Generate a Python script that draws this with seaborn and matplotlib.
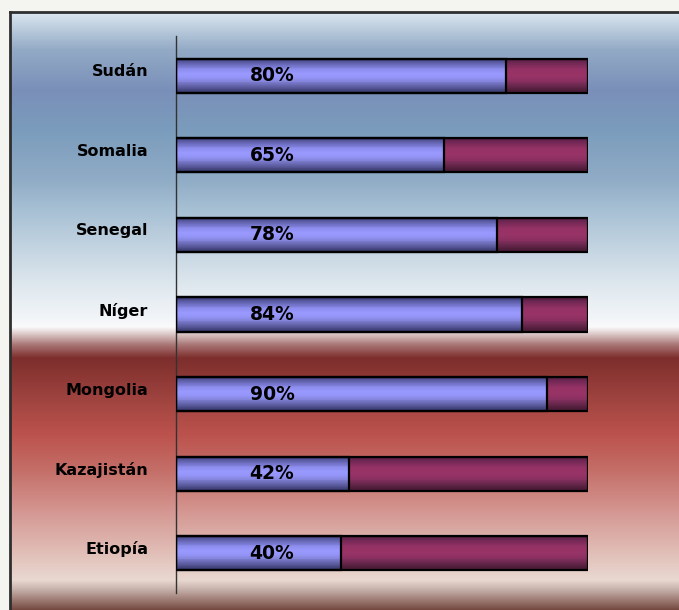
import numpy as np
import pandas as pd
import matplotlib
matplotlib.use("Agg")
import matplotlib.pyplot as plt
import seaborn as sns
from matplotlib.colors import to_rgb
from matplotlib.transforms import ScaledTranslation, blended_transform_factory

countries = ["Sudán", "Somalia", "Senegal", "Níger", "Mongolia", "Kazajistán", "Etiopía"]
values = [80, 65, 78, 84, 90, 42, 40]
totals = [100, 100, 100, 100, 100, 100, 100]
labels = [f"{v}%" for v in values]

df = pd.DataFrame({"country": countries, "value": values, "total": totals})

sns.set_theme(style="white")
plt.rcParams['font.family'] = ['DejaVu Sans']

W, H = 679, 610
fig = plt.figure(figsize=(W / 100, H / 100), dpi=100)
fig.patch.set_facecolor('#f4f5f0')

# ---- background panel with vertical gradient ----
bg = fig.add_axes([10 / W, 0, (W - 10) / W, (H - 12) / H])
stops = [
    (12, '#dde8f2'), (30, '#b8cadb'), (50, '#93aac6'), (90, '#7a8fb8'),
    (130, '#7b9cbc'), (180, '#90acc6'), (210, '#a7c0d4'), (250, '#c5d5e2'),
    (290, '#e2eaf0'), (318, '#f2f5f8'), (327, '#fafafb'), (331, '#eadede'),
    (345, '#a87474'), (358, '#7d2e2c'), (400, '#a04440'), (435, '#bc524d'),
    (470, '#c46e68'), (510, '#d49590'), (550, '#e0bcb5'), (580, '#e9d9d1'),
    (590, '#c4aea8'), (610, '#74483f'),
]
ys = np.array([s[0] for s in stops], dtype=float)
cols = np.array([to_rgb(s[1]) for s in stops])
py = np.arange(12, 610) + 0.5
grad = np.stack([np.interp(py, ys, cols[:, k]) for k in range(3)], axis=1)
bg.imshow(grad[:, None, :], aspect='auto', extent=[0, 1, 0, 1], interpolation='nearest')
bg.set_xlim(0, 1)
bg.set_ylim(0, 1)
bg.set_xticks([])
bg.set_yticks([])
for s in ['right', 'bottom']:
    bg.spines[s].set_visible(False)
for s in ['top', 'left']:
    bg.spines[s].set_visible(True)
    bg.spines[s].set_color('#2f2f2f')
    bg.spines[s].set_linewidth(2)

# ---- main chart ----
ax = fig.add_axes([176 / W, 17 / H, 412 / W, 557 / H])
ax.set_facecolor('none')
sns.barplot(data=df, y="country", x="total", color="#993366", width=0.43,
            edgecolor="black", linewidth=1.6, orient="h", ax=ax)
sns.barplot(data=df, y="country", x="value", color="#9999ff", width=0.43,
            edgecolor="black", linewidth=1.6, orient="h", ax=ax)

blue_grad = ['#3c3c70', '#5858a0', '#7676cc', '#8e8ef0', '#9999ff', '#9696fa',
             '#8585dc', '#6a6ab4', '#4e4e8c', '#3c3c70']
maroon_grad = ['#4a1a38', '#6a2550', '#842e5e', '#953265', '#993366', '#963366',
               '#88305f', '#702a52', '#55203f', '#481a35']


def make_grad(hexes, n=40):
    c = np.array([to_rgb(h) for h in hexes])
    t = np.linspace(0, 1, len(hexes))
    tt = np.linspace(0, 1, n)
    g = np.stack([np.interp(tt, t, c[:, k]) for k in range(3)], axis=1)
    return g[:, None, :]


patches = list(ax.patches)
n = len(countries)
for i, p in enumerate(patches):
    x0, y0 = p.get_x(), p.get_y()
    w, h = p.get_width(), p.get_height()
    g = make_grad(maroon_grad if i < n else blue_grad)
    ax.imshow(g, aspect='auto', extent=[x0, x0 + w, y0 + h, y0],
              interpolation='nearest', zorder=2 + (0.5 if i >= n else 0))
    p.set_facecolor('none')
    p.set_zorder(3 + (0.5 if i >= n else 0))

ax.set_xlim(0, 100)
ax.set_ylim(n - 0.5, -0.5)

for i, lab in enumerate(labels):
    ax.text(23.3, i, lab, ha='center', va='center', fontsize=13.5,
            fontweight='bold', color='black', zorder=5)

# category labels (drawn as text, shifted slightly above bar centre)
ax.set_yticks(range(n))
ax.set_yticklabels([""] * n)
lab_tr = blended_transform_factory(ax.transAxes, ax.transData) + \
    ScaledTranslation(-28 / 100, 4 / 100, fig.dpi_scale_trans)
for i, c in enumerate(countries):
    ax.text(0, i, c, transform=lab_tr, ha='right', va='center',
            fontsize=11.5, fontweight='bold', color='black')

ax.set_xlabel("")
ax.set_ylabel("")
ax.set_xticks([])
ax.tick_params(axis='y', length=0)
for s in ['top', 'right', 'bottom']:
    ax.spines[s].set_visible(False)
ax.spines['left'].set_color('#333333')
ax.spines['left'].set_linewidth(1)

fig.savefig("out.png", dpi=100)
